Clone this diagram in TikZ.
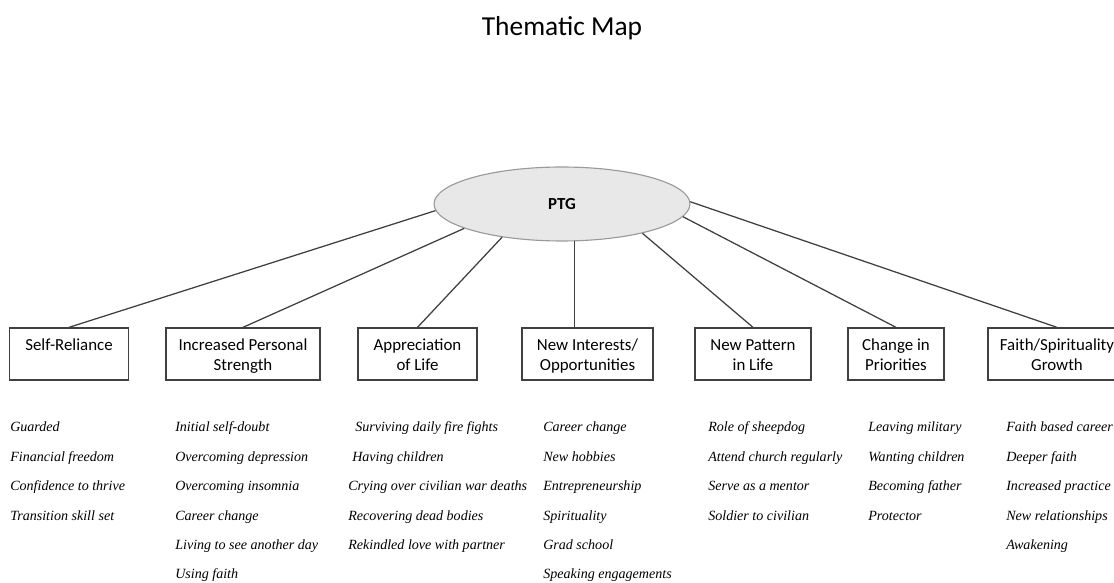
\documentclass[tikz,border=0pt]{standalone}
\usepackage{fontspec}
\setmainfont{Carlito}
\newfontfamily\itemfont{Liberation Serif}
\usetikzlibrary{shapes.geometric, positioning}

\definecolor{ptggray}{HTML}{E8E8E8}
\definecolor{rimgray}{HTML}{9A9A9A}
\definecolor{linegray}{HTML}{404040}

\begin{document}
\begin{tikzpicture}[
    x=0.025cm, y=-0.025cm,
    theme/.style={draw=linegray, rectangle, line width=0.9pt, fill=white, align=center, inner sep=0pt, text height=30.4pt, text depth=6.6pt, font=\fontsize{12}{14.4}\selectfont},
    oneline/.style={text height=16pt, text depth=21pt},
    core/.style={draw=rimgray, ellipse, fill=ptggray, line width=0.8pt, minimum width=182pt, minimum height=52.6pt, font=\fontsize{12}{14}\selectfont\bfseries},
    link/.style={draw=linegray, line width=0.9pt},
    code/.style={anchor=west, inner sep=0pt, text height=7pt, text depth=2pt, font=\itemfont\itshape\fontsize{10}{12}\selectfont}
]
    \useasboundingbox (0,0) rectangle (1114,583);

    % ===============================
    % 1. TITLE AND CORE
    % ===============================
    \node[font=\fontsize{19.5}{23}\selectfont] (title) at (562, 28) {Thematic Map};
    \node[core] (ptg) at (562, 204) {PTG};

    % ===============================
    % 2. THEMES
    % ===============================
    \node[theme, oneline, minimum width=84.6pt] (self) at (69, 354) {Self-Reliance};
    \node[theme, minimum width=109.5pt] (strength) at (243, 354) {Increased Personal\\Strength};
    \node[theme, minimum width=84.6pt] (appr) at (417.5, 354) {Appreciation\\of Life};
    \node[theme, minimum width=93.2pt] (interest) at (587.5, 354) {New Interests/\\Opportunities};
    \node[theme, minimum width=82.5pt] (pattern) at (753, 354) {New Pattern\\in Life};
    \node[theme, minimum width=68.3pt] (priority) at (896, 354) {Change in\\Priorities};
    \node[theme, minimum width=98.2pt] (faith) at (1057, 354) {Faith/Spirituality\\Growth};

    % links from PTG
    \draw[link] (ptg.183) -- (self.north);
    \draw[link] (ptg.194) -- (strength.north);
    \draw[link] (ptg.209) -- (appr.north);
    \draw[link] (ptg.288) -- (ptg.288 |- interest.north);
    \draw[link] (ptg.340) -- (pattern.north);
    \draw[link] (ptg.354) -- (priority.north);
    \draw[link] (ptg.1) -- (faith.north);

    % ===============================
    % 3. CODES
    % ===============================

    % Self-Reliance
    \node[code] (sr1) at (10, 428) {Guarded};
    \node[code] (sr2) at (10, 457.5) {Financial freedom};
    \node[code] (sr3) at (10, 487) {Confidence to thrive};
    \node[code] (sr4) at (10, 516.5) {Transition skill set};

    % Increased Personal Strength
    \node[code] (ps1) at (175, 428) {Initial self-doubt};
    \node[code] (ps2) at (175, 457.5) {Overcoming depression};
    \node[code] (ps3) at (175, 487) {Overcoming insomnia};
    \node[code] (ps4) at (175, 516.5) {Career change};
    \node[code] (ps5) at (175, 546) {Living to see another day};
    \node[code] (ps6) at (175, 575) {Using faith};

    % Appreciation of Life
    \node[code] (al1) at (355, 428) {Surviving daily fire fights};
    \node[code] (al2) at (352, 457.5) {Having children};
    \node[code] (al3) at (348, 487) {Crying over civilian war deaths};
    \node[code] (al4) at (348, 516.5) {Recovering dead bodies};
    \node[code] (al5) at (348, 546) {Rekindled love with partner};

    % New Interests/Opportunities
    \node[code] (ni1) at (543, 428) {Career change};
    \node[code] (ni2) at (543, 457.5) {New hobbies};
    \node[code] (ni3) at (543, 487) {Entrepreneurship};
    \node[code] (ni4) at (543, 516.5) {Spirituality};
    \node[code] (ni5) at (543, 546) {Grad school};
    \node[code] (ni6) at (543, 575) {Speaking engagements};

    % New Pattern in Life
    \node[code] (np1) at (708, 428) {Role of sheepdog};
    \node[code] (np2) at (708, 457.5) {Attend church regularly};
    \node[code] (np3) at (708, 487) {Serve as a mentor};
    \node[code] (np4) at (708, 516.5) {Soldier to civilian};

    % Change in Priorities
    \node[code] (cp1) at (868, 428) {Leaving military};
    \node[code] (cp2) at (868, 457.5) {Wanting children};
    \node[code] (cp3) at (868, 487) {Becoming father};
    \node[code] (cp4) at (868, 516.5) {Protector};

    % Faith/Spirituality Growth
    \node[code] (fs1) at (1006, 428) {Faith based career};
    \node[code] (fs2) at (1006, 457.5) {Deeper faith};
    \node[code] (fs3) at (1006, 487) {Increased practice};
    \node[code] (fs4) at (1006, 516.5) {New relationships};
    \node[code] (fs5) at (1006, 546) {Awakening};

\end{tikzpicture}
\end{document}
